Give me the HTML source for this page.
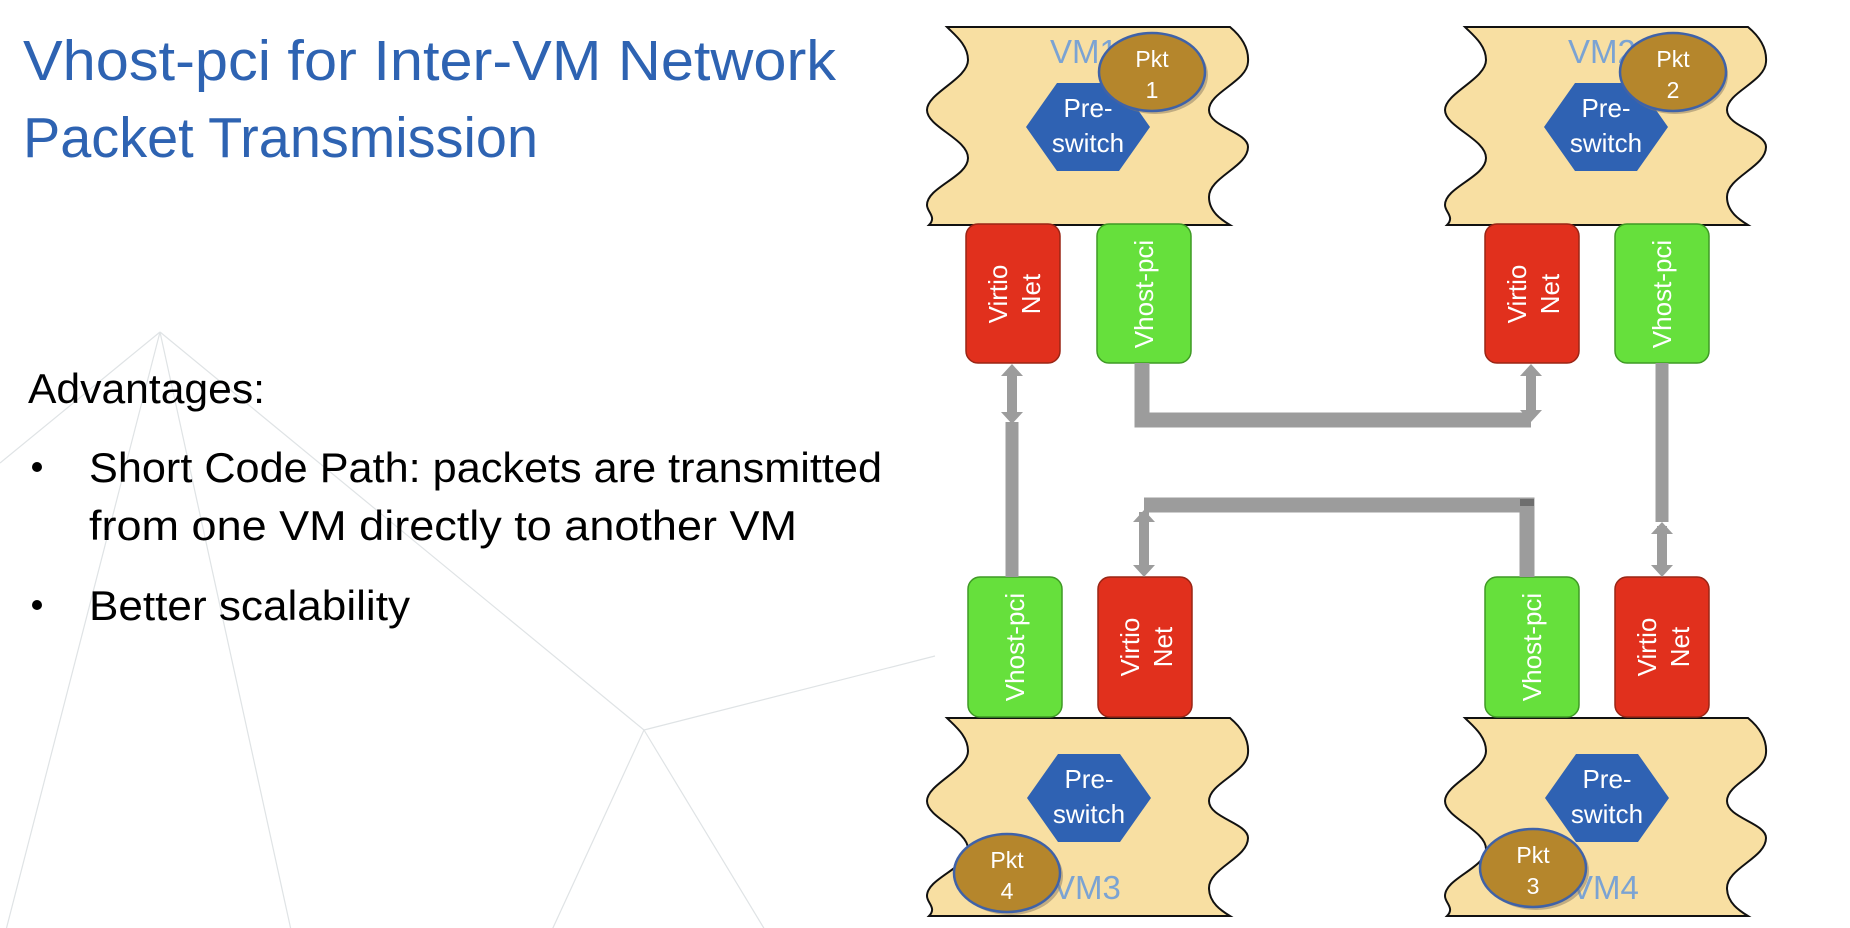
<!DOCTYPE html>
<html><head><meta charset="utf-8"><style>
html,body{margin:0;padding:0;background:#fff;}
svg{display:block;}
text{font-family:"Liberation Sans",sans-serif;}
</style></head><body>
<svg width="1850" height="928" viewBox="0 0 1850 928" xmlns="http://www.w3.org/2000/svg">
<defs>
<path id="vm" d="M20,0 L303,0 C315,10 322,22 321,35 C320,55 282,65 282,83 C282,100 321,105 321,120 C321,140 282,150 282,170 C282,185 295,193 303,198 L2,198 C10,190 0,185 0,178 C0,160 41,150 41,131 C41,112 0,100 0,83 C0,66 41,52 41,33 C41,18 28,8 20,0 Z" fill="#f8dfa2" stroke="#111" stroke-width="2"/>
<polygon id="hex" points="-62,0 -31,-44 31,-44 62,0 31,44 -31,44" fill="#2f62b3"/>
<g id="dbl">
<rect x="-5" y="10" width="10" height="0" fill="#9c9c9c"/>
</g>
</defs>
<!-- background lines -->
<g stroke="#dfe3e5" stroke-width="1.2" fill="none">
<line x1="160" y1="332" x2="0" y2="463"/>
<line x1="160" y1="332" x2="6" y2="930"/>
<line x1="160" y1="332" x2="291" y2="930"/>
<line x1="160" y1="332" x2="644" y2="730"/>
<line x1="644" y1="730" x2="935" y2="656"/>
<line x1="644" y1="730" x2="552" y2="930"/>
<line x1="644" y1="730" x2="765" y2="930"/>
</g>
<!-- left text -->
<text x="23" y="80" font-size="57" fill="#2e63b2" textLength="813" lengthAdjust="spacingAndGlyphs">Vhost-pci for Inter-VM Network</text>
<text x="23" y="157" font-size="57" fill="#2e63b2" textLength="515" lengthAdjust="spacingAndGlyphs">Packet Transmission</text>
<text x="28" y="403" font-size="42" fill="#000" textLength="237" lengthAdjust="spacingAndGlyphs">Advantages:</text>
<circle cx="37" cy="467" r="5" fill="#000"/>
<text x="89" y="482" font-size="42" fill="#000" textLength="793" lengthAdjust="spacingAndGlyphs">Short Code Path: packets are transmitted</text>
<text x="89" y="540" font-size="42" fill="#000" textLength="708" lengthAdjust="spacingAndGlyphs">from one VM directly to another VM</text>
<circle cx="37" cy="605" r="5" fill="#000"/>
<text x="89" y="620" font-size="42" fill="#000" textLength="321" lengthAdjust="spacingAndGlyphs">Better scalability</text>

<!-- VM shapes -->
<use href="#vm" x="927" y="27"/>
<use href="#vm" x="1445" y="27"/>
<use href="#vm" x="927" y="718"/>
<use href="#vm" x="1445" y="718"/>

<!-- VM labels -->
<g font-size="33" fill="#7ba3d3">
<text x="1050" y="63">VM1</text>
<text x="1568" y="63">VM2</text>
<text x="1053" y="899">VM3</text>
<text x="1571" y="899">VM4</text>
</g>

<!-- hexagons -->
<use href="#hex" x="1088" y="127"/>
<use href="#hex" x="1606" y="127"/>
<use href="#hex" x="1089" y="798"/>
<use href="#hex" x="1607" y="798"/>
<g font-size="26" fill="#fff" text-anchor="middle">
<text x="1088" y="117">Pre-</text><text x="1088" y="152">switch</text>
<text x="1606" y="117">Pre-</text><text x="1606" y="152">switch</text>
<text x="1089" y="788">Pre-</text><text x="1089" y="823">switch</text>
<text x="1607" y="788">Pre-</text><text x="1607" y="823">switch</text>
</g>

<!-- packets -->
<g fill="#b5862c" stroke="#3f62a8" stroke-width="2.5">
<ellipse cx="1155" cy="75" rx="53" ry="39" fill="#8a7a60" stroke="none" opacity="0.5"/>
<ellipse cx="1152" cy="72" rx="53" ry="39"/>
<ellipse cx="1675" cy="75" rx="53" ry="39" fill="#8a7a60" stroke="none" opacity="0.5"/>
<ellipse cx="1673" cy="72" rx="53" ry="39"/>
<ellipse cx="1010" cy="876" rx="53" ry="39" fill="#8a7a60" stroke="none" opacity="0.5"/>
<ellipse cx="1007" cy="873" rx="53" ry="39"/>
<ellipse cx="1536" cy="871" rx="53" ry="39" fill="#8a7a60" stroke="none" opacity="0.5"/>
<ellipse cx="1533" cy="868" rx="53" ry="39"/>
</g>
<g font-size="23" fill="#fff" text-anchor="middle">
<text x="1152" y="67">Pkt</text><text x="1152" y="98">1</text>
<text x="1673" y="67">Pkt</text><text x="1673" y="98">2</text>
<text x="1007" y="868">Pkt</text><text x="1007" y="899">4</text>
<text x="1533" y="863">Pkt</text><text x="1533" y="894">3</text>
</g>

<!-- boxes -->
<g stroke-width="1.5">
<rect x="966" y="224" width="94" height="139" rx="12" fill="#e1301d" stroke="#9a2515"/>
<rect x="1097" y="224" width="94" height="139" rx="12" fill="#66e03c" stroke="#3f9a25"/>
<rect x="1485" y="224" width="94" height="139" rx="12" fill="#e1301d" stroke="#9a2515"/>
<rect x="1615" y="224" width="94" height="139" rx="12" fill="#66e03c" stroke="#3f9a25"/>
<rect x="968" y="577" width="94" height="140" rx="12" fill="#66e03c" stroke="#3f9a25"/>
<rect x="1098" y="577" width="94" height="140" rx="12" fill="#e1301d" stroke="#9a2515"/>
<rect x="1485" y="577" width="94" height="140" rx="12" fill="#66e03c" stroke="#3f9a25"/>
<rect x="1615" y="577" width="94" height="140" rx="12" fill="#e1301d" stroke="#9a2515"/>
</g>
<g font-size="26" fill="#fff" text-anchor="middle">
<text transform="translate(1013,294) rotate(-90)"><tspan x="0" y="-6">Virtio</tspan><tspan x="0" y="27">Net</tspan></text>
<text transform="translate(1153,294) rotate(-90)" x="0" y="0">Vhost-pci</text>
<text transform="translate(1532,294) rotate(-90)"><tspan x="0" y="-6">Virtio</tspan><tspan x="0" y="27">Net</tspan></text>
<text transform="translate(1671,294) rotate(-90)" x="0" y="0">Vhost-pci</text>
<text transform="translate(1024,647) rotate(-90)" x="0" y="0">Vhost-pci</text>
<text transform="translate(1145,647) rotate(-90)"><tspan x="0" y="-6">Virtio</tspan><tspan x="0" y="27">Net</tspan></text>
<text transform="translate(1541,647) rotate(-90)" x="0" y="0">Vhost-pci</text>
<text transform="translate(1662,647) rotate(-90)"><tspan x="0" y="-6">Virtio</tspan><tspan x="0" y="27">Net</tspan></text>
</g>

<!-- connectors -->
<g stroke="#9c9c9c" fill="none" stroke-linejoin="miter">
<polyline points="1142,363 1142,420 1531,420" stroke-width="15"/>
<polyline points="1527,577 1527,505 1144,505" stroke-width="15"/>
<line x1="1012" y1="422" x2="1012" y2="577" stroke-width="13"/>
<line x1="1662" y1="363" x2="1662" y2="522" stroke-width="13"/>
<g stroke-width="10">
<line x1="1012" y1="372" x2="1012" y2="418"/>
<line x1="1531" y1="372" x2="1531" y2="414"/>
<line x1="1144" y1="512" x2="1144" y2="570"/>
<line x1="1662" y1="526" x2="1662" y2="570"/>
</g>
</g>
<g fill="#9c9c9c">
<polygon points="1012,364 1001,376 1023,376"/><polygon points="1012,424 1001,412 1023,412"/>
<polygon points="1531,364 1520,376 1542,376"/><polygon points="1531,422 1520,410 1542,410"/>
<polygon points="1144,510 1133,522 1155,522"/><polygon points="1144,577 1133,565 1155,565"/>
<polygon points="1662,522 1651,534 1673,534"/><polygon points="1662,577 1651,565 1673,565"/>
</g>
<rect x="1520" y="499" width="14" height="7" fill="#6e6e6e"/>
</svg>
</body></html>
